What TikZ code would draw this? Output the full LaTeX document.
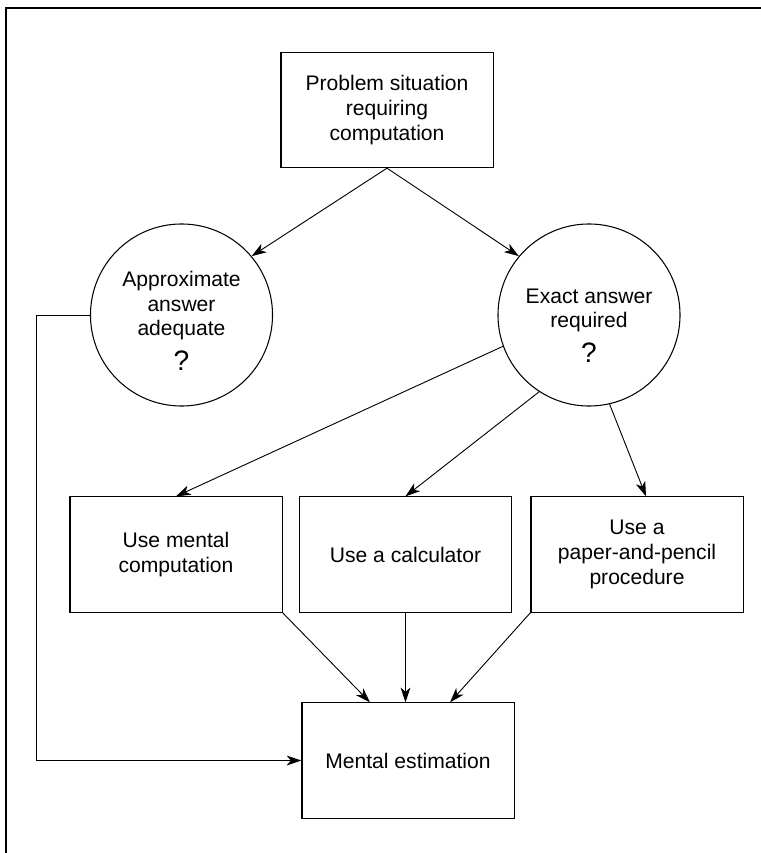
\documentclass[tikz,border=0pt]{standalone}
\usepackage{fontspec}
\setmainfont{Liberation Sans}
\usetikzlibrary{arrows.meta}
\newcommand{\FlowFont}{\fontsize{15}{17.5}\selectfont}
\newcommand{\Lift}[1]{\rule{0pt}{#1}}
\newcommand{\Ask}{{\fontsize{20}{20}\selectfont ?}}

\tikzset{
  box/.style={draw, line width=0.75pt, minimum width=5.3cm, minimum height=2.88cm,
    align=center, font=\FlowFont, inner sep=0pt},
  ring/.style={draw, circle, line width=0.75pt, minimum size=4.55cm,
    align=center, font=\FlowFont, inner sep=0pt},
  link/.style={->, line width=0.65pt}
}

\begin{document}
\begin{tikzpicture}[x=0.025cm, y=-0.025cm, >={Stealth[length=10.5pt,width=7pt,inset=3pt]}]
				\useasboundingbox (0,0) rectangle (761,853);
				% frame
				\draw[line width=1.6pt] (6,853) -- (6,8) -- (761,8);
				% nodes
				\node[box] (prob) at (387,110) {Problem situation\\requiring\\computation};
				\node[ring] (apx) at (181.5,315) {\Lift{19pt}Approximate\\answer\\adequate\\[7pt]\Ask};
				\node[ring] (exa) at (589,315) {\Lift{25pt}Exact answer\\required\\[7pt]\Ask};
				\node[box] (mc) at (176,554.5) {Use mental\\computation};
				\node[box] (calc) at (405.5,554.5) {Use a calculator};
				\node[box] (pp) at (637,554.5) {Use a\\paper-and-pencil\\procedure};
				\node[box] (me) at (408,760.5) {Mental estimation};
				\coordinate (bend) at (36,315);
				% connectors
				\draw[link] (prob.south) -- (apx.40);
				\draw[link] (prob.south) -- (exa.140);
				\draw[link] (exa.200) -- (mc.north);
				\draw[link] (exa.237) -- (calc.north);
				\draw[link] (exa.283) -- ([xshift=0.225cm]pp.north);
				\draw[link] (mc.south east) -- ([xshift=-0.95cm]me.north);
				\draw[link] (calc.south) -- (calc.south |- me.north);
				\draw[link] (pp.south west) -- ([xshift=1.05cm]me.north);
				\draw[link] (apx.west) -- (bend) |- (me.west);
		\end{tikzpicture}
\end{document}
